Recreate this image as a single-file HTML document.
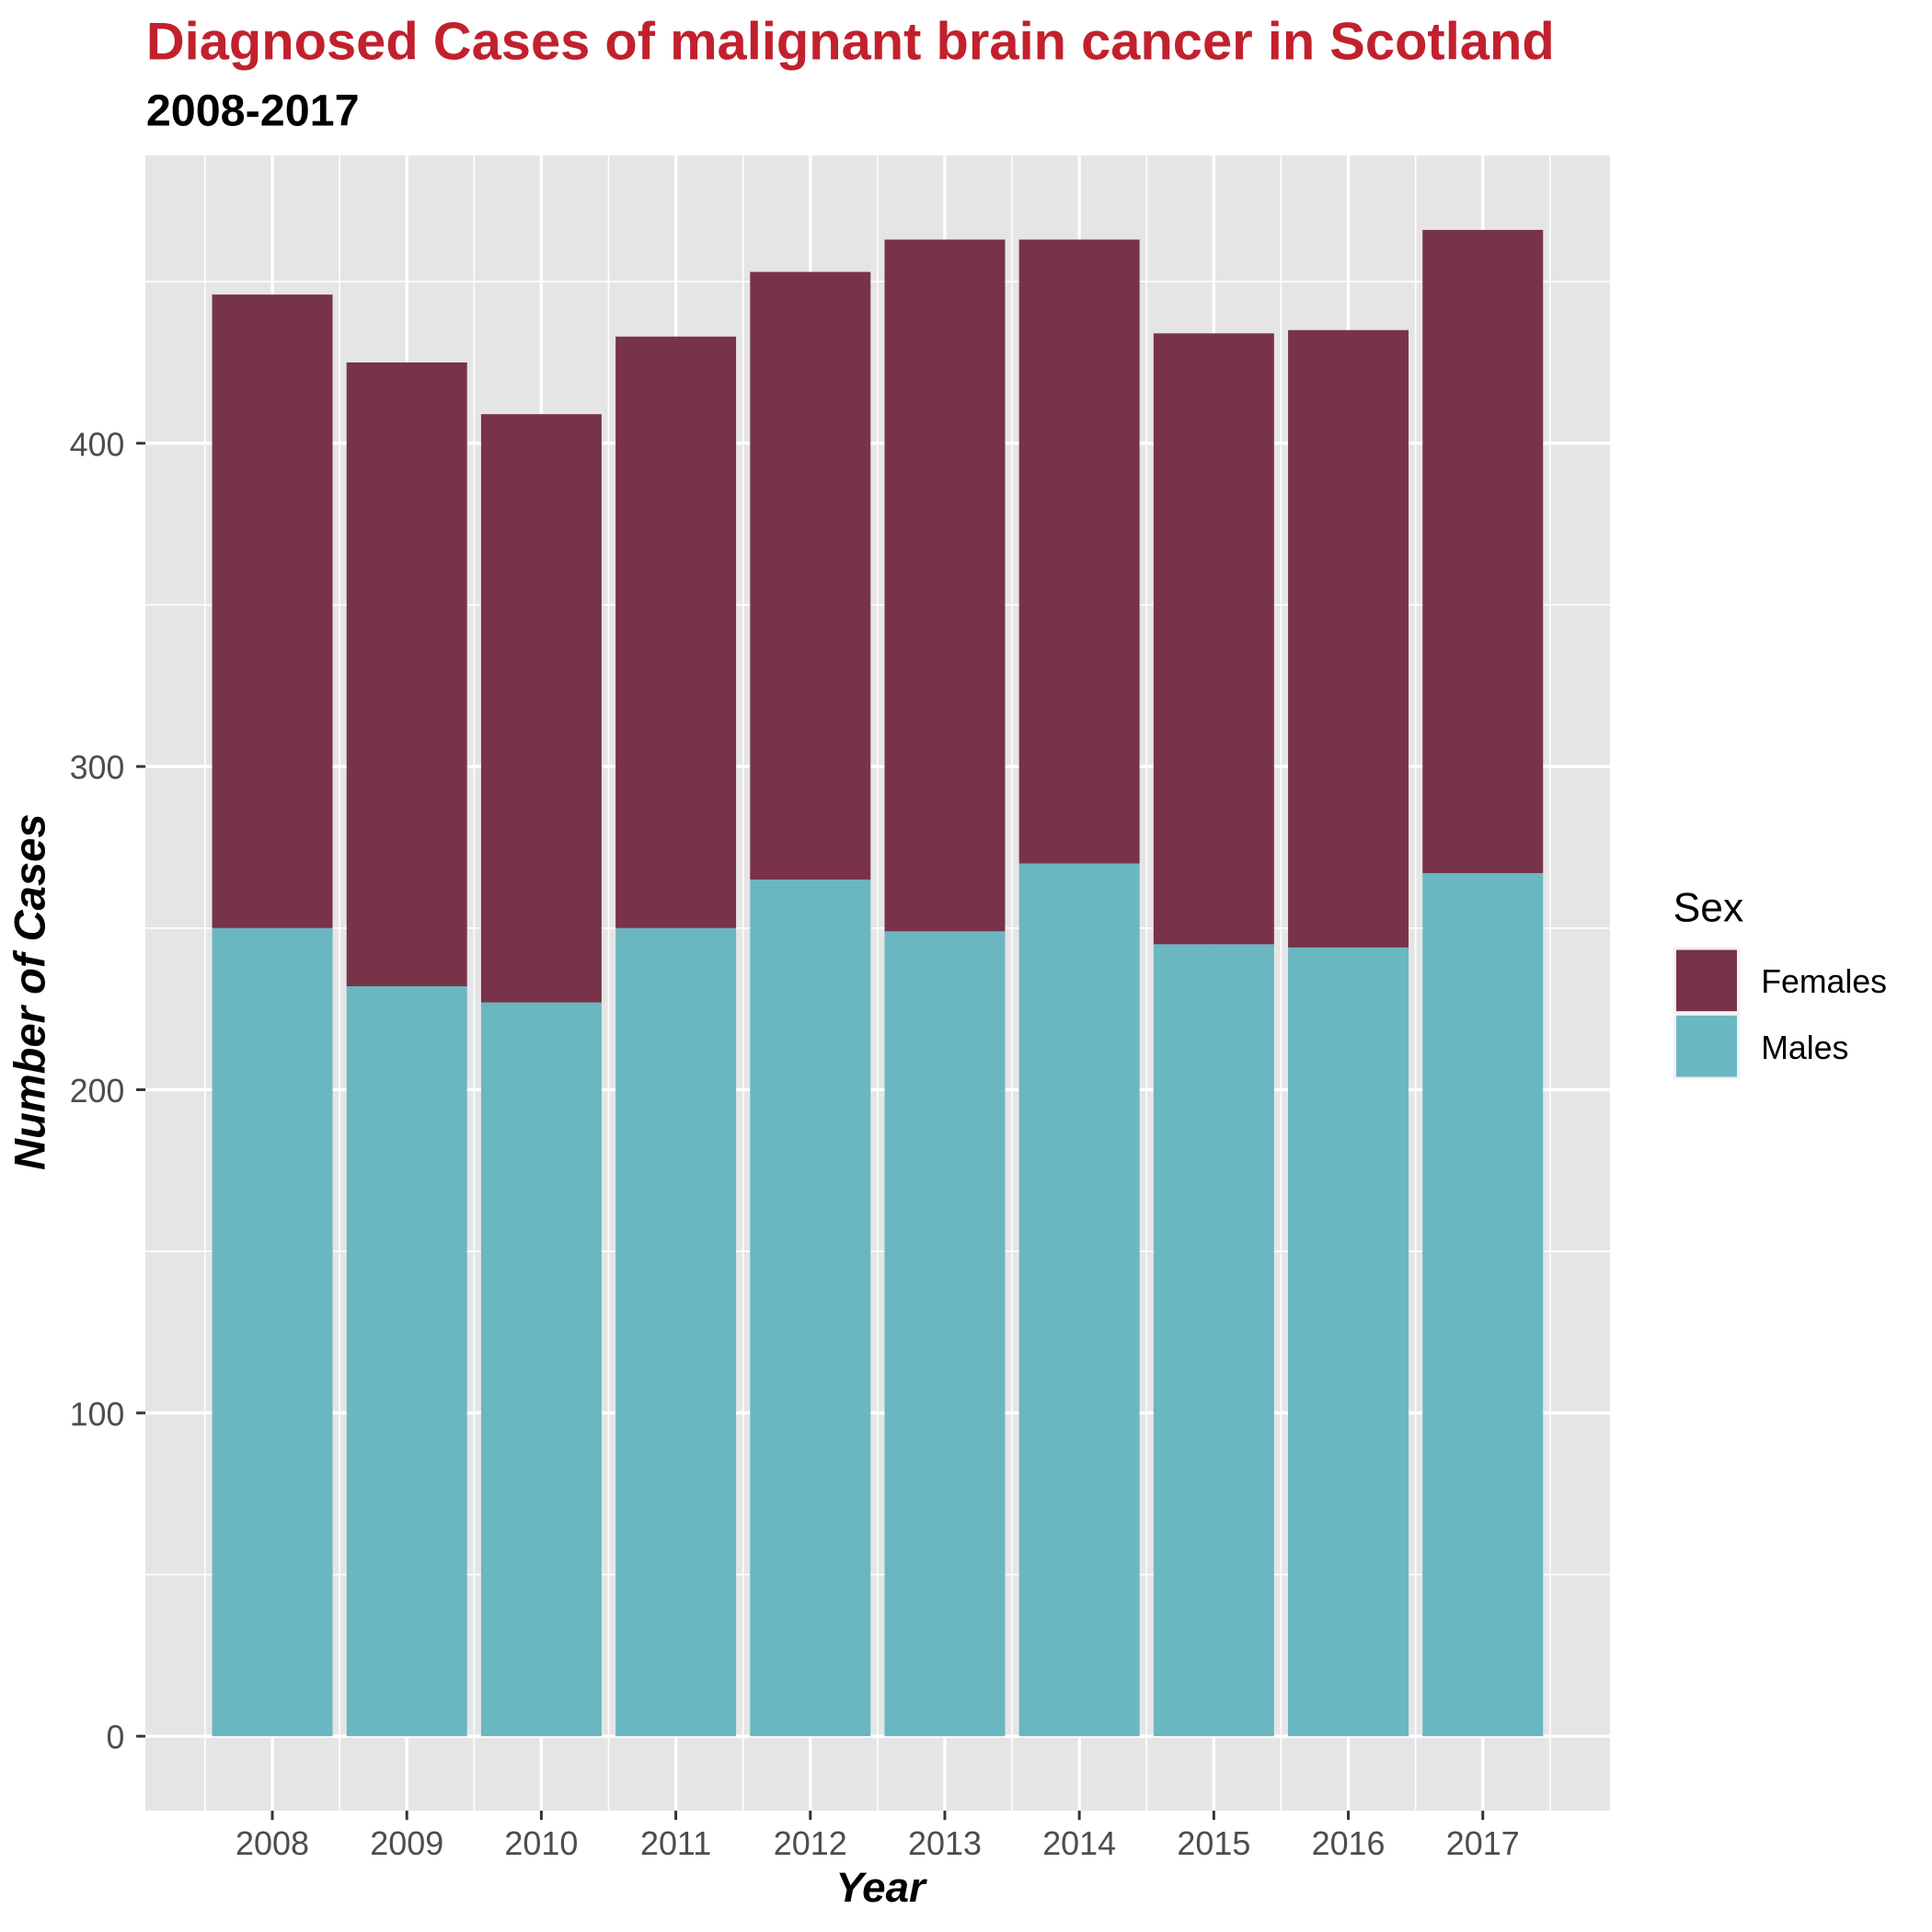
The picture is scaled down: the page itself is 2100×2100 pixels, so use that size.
<!DOCTYPE html>
<html><head><meta charset="utf-8"><style>
html,body{margin:0;padding:0;background:#fff;}
svg{display:block;font-family:"Liberation Sans",Arial,sans-serif;}
</style></head><body>
<svg id="chart" width="2100" height="2100" viewBox="0 0 1560 1560" xmlns="http://www.w3.org/2000/svg">
<text x="118" y="48" font-size="43" font-weight="bold" fill="#C1212D">Diagnosed Cases of malignant brain cancer in Scotland</text>
<text x="118" y="101.5" font-size="36" font-weight="bold" fill="#000">2008-2017</text>
<rect x="117.4" y="125.5" width="1182.6" height="1336.5" fill="#E5E5E5"/>
<g id="grid"></g>
<g id="bars"></g>
<g id="axes"></g>
<text x="711" y="1535.6" font-size="34" font-weight="bold" font-style="italic" text-anchor="middle">Year</text>
<text transform="translate(36,801) rotate(-90)" font-size="35" font-weight="bold" font-style="italic" text-anchor="middle">Number of Cases</text>
<g>
<text x="1351" y="744" font-size="33" fill="#000">Sex</text>
<rect x="1351" y="764.6" width="54" height="107" fill="#F2F2F2"/>
<rect x="1353.5" y="767" width="49" height="49.5" fill="#78334A"/>
<text x="1422" y="801.5" font-size="26.5" fill="#000">Females</text>
<rect x="1353.5" y="820" width="49" height="49.5" fill="#6AB6C1"/>
<text x="1422" y="855" font-size="26.5" fill="#000">Males</text>
</g>
</svg>
<script>
const years = [2008,2009,2010,2011,2012,2013,2014,2015,2016,2017];
const males = [250,232,227,250,265,249,270,245,244,267];
const females = [196,193,182,183,188,214,193,189,191,199];
const yTicks = [0,100,200,300,400];
const yMinor = [50,150,250,350,450];
const NS='http://www.w3.org/2000/svg';
const PL=117.4, PR=1300, PT=125.5, PB=1462;
const y = v => 1401.9 - v*2.61;
const x = yr => 219.9 + (yr-2008)*108.6;
const bw = 97.3;
function mk(tag, attrs, parent){const e=document.createElementNS(NS,tag);for(const k in attrs)e.setAttribute(k,attrs[k]);parent.appendChild(e);return e;}
const grid=document.getElementById('grid'), bars=document.getElementById('bars'), axes=document.getElementById('axes');
yMinor.forEach(v=>{const l=mk('line',{x1:PL,x2:PR,y1:y(v),y2:y(v),stroke:'#fff','stroke-width':1.2},grid);

});
yTicks.forEach(v=>{const l=mk('line',{x1:PL,x2:PR,y1:y(v),y2:y(v),stroke:'#fff','stroke-width':2.5},grid);


const t=mk('line',{x1:110,x2:PL,y1:y(v),y2:y(v),stroke:'#333','stroke-width':2.2},axes);


const tx=mk('text',{x:100.5,y:y(v)+10,'font-size':26.5,fill:'#4D4D4D','text-anchor':'end'},axes);tx.textContent=v;

});
for(let i=0;i<=years.length;i++){const xv=x(years[0]-0.5+i);const l=mk('line',{x1:xv,x2:xv,y1:PT,y2:PB,stroke:'#fff','stroke-width':1.2},grid);

}
years.forEach((yr,i)=>{const cx=x(yr);
const l=mk('line',{x1:cx,x2:cx,y1:PT,y2:PB,stroke:'#fff','stroke-width':2.5},grid);


const m=mk('rect',{x:cx-bw/2,y:y(males[i]),width:bw,height:y(0)-y(males[i]),fill:'#6AB6C1'},bars);


const f=mk('rect',{x:cx-bw/2,y:y(males[i]+females[i]),width:bw,height:y(males[i])-y(males[i]+females[i]),fill:'#78334A'},bars);


const t=mk('line',{x1:cx,x2:cx,y1:PB,y2:PB+7.5,stroke:'#333','stroke-width':2.2},axes);


const tx=mk('text',{x:cx,y:1497.6,'font-size':26.7,fill:'#4D4D4D','text-anchor':'middle'},axes);tx.textContent=yr;

});
</script>
</body></html>
